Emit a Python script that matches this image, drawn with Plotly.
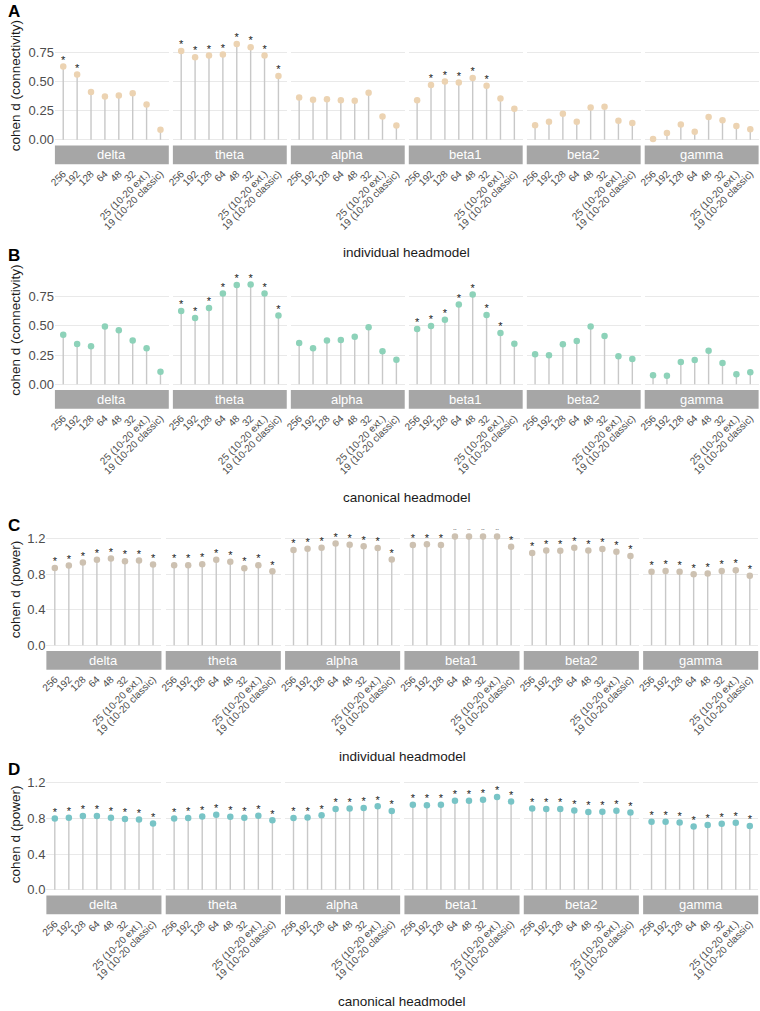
import plotly.graph_objects as go

# ---------------- data ----------------
categories = ["256", "192", "128", "64", "48", "32", "25 (10-20 ext.)", "19 (10-20 classic)"]
bands = ["delta", "theta", "alpha", "beta1", "beta2", "gamma"]

# A: connectivity, individual headmodel
conn_individual = [
    [0.627, 0.559, 0.410, 0.371, 0.379, 0.399, 0.302, 0.086],
    [0.761, 0.707, 0.721, 0.730, 0.821, 0.793, 0.721, 0.547],
    [0.362, 0.342, 0.348, 0.339, 0.334, 0.402, 0.200, 0.123],
    [0.339, 0.470, 0.499, 0.490, 0.530, 0.462, 0.354, 0.265],
    [0.125, 0.154, 0.222, 0.154, 0.277, 0.282, 0.163, 0.143],
    [0.006, 0.057, 0.131, 0.068, 0.194, 0.168, 0.117, 0.091],
]
conn_individual_sig = [
    [1, 1, 0, 0, 0, 0, 0, 0],
    [1, 1, 1, 1, 1, 1, 1, 1],
    [0, 0, 0, 0, 0, 0, 0, 0],
    [0, 1, 1, 1, 1, 1, 0, 0],
    [0, 0, 0, 0, 0, 0, 0, 0],
    [0, 0, 0, 0, 0, 0, 0, 0],
]

# B: connectivity, canonical headmodel
conn_canonical = [
    [0.425, 0.345, 0.325, 0.496, 0.462, 0.376, 0.308, 0.108],
    [0.627, 0.567, 0.653, 0.778, 0.850, 0.855, 0.778, 0.590],
    [0.354, 0.308, 0.376, 0.379, 0.408, 0.488, 0.282, 0.211],
    [0.473, 0.499, 0.553, 0.684, 0.770, 0.593, 0.439, 0.348],
    [0.257, 0.248, 0.342, 0.371, 0.496, 0.413, 0.240, 0.217],
    [0.077, 0.074, 0.191, 0.208, 0.288, 0.183, 0.086, 0.103],
]
conn_canonical_sig = [
    [0, 0, 0, 0, 0, 0, 0, 0],
    [1, 1, 1, 1, 1, 1, 1, 1],
    [0, 0, 0, 0, 0, 0, 0, 0],
    [1, 1, 1, 1, 1, 1, 1, 0],
    [0, 0, 0, 0, 0, 0, 0, 0],
    [0, 0, 0, 0, 0, 0, 0, 0],
]

# C: power, individual headmodel
power_individual = [
    [0.872, 0.899, 0.933, 0.964, 0.979, 0.949, 0.956, 0.910],
    [0.903, 0.903, 0.914, 0.964, 0.941, 0.869, 0.903, 0.834],
    [1.074, 1.090, 1.101, 1.147, 1.135, 1.116, 1.097, 0.968],
    [1.131, 1.139, 1.131, 1.227, 1.227, 1.227, 1.227, 1.112],
    [1.040, 1.070, 1.067, 1.101, 1.070, 1.086, 1.055, 1.006],
    [0.830, 0.838, 0.830, 0.800, 0.808, 0.838, 0.846, 0.785],
]
power_individual_sig = [[1] * 8 for _ in range(6)]

# D: power, canonical headmodel
power_canonical = [
    [0.800, 0.807, 0.826, 0.826, 0.807, 0.793, 0.789, 0.744],
    [0.800, 0.804, 0.822, 0.841, 0.819, 0.807, 0.830, 0.778],
    [0.804, 0.811, 0.834, 0.905, 0.912, 0.916, 0.935, 0.882],
    [0.953, 0.949, 0.953, 0.998, 0.998, 1.009, 1.039, 0.991],
    [0.912, 0.905, 0.905, 0.890, 0.871, 0.875, 0.886, 0.867],
    [0.763, 0.763, 0.755, 0.710, 0.725, 0.740, 0.751, 0.714],
]
power_canonical_sig = [[1] * 8 for _ in range(6)]

# ---------------- layout config ----------------
W, H = 760, 1011
FONT = "Liberation Sans, Arial, sans-serif"


def fx(px):
    return px / W


def fy(px):
    return 1 - px / H


panels = [
    dict(tag="A", vals=conn_individual, sig=conn_individual_sig, color="#ecd3b2",
         top=26.6, bot=145.3, rng=[-0.045, 0.97], strip=(145.7, 164.5),
         left=49.3, width=114.8, gap=4.1,
         tickvals=[0, 0.25, 0.5, 0.75], tickformat=".2f",
         ytitle="cohen d (connectivity)", xtitle="individual headmodel",
         xtitle_y=253, tag_y=0),
    dict(tag="B", vals=conn_canonical, sig=conn_canonical_sig, color="#8dd2b9",
         top=271.6, bot=390.3, rng=[-0.045, 0.97], strip=(390.7, 409.5),
         left=49.3, width=114.8, gap=4.1,
         tickvals=[0, 0.25, 0.5, 0.75], tickformat=".2f",
         ytitle="cohen d (connectivity)", xtitle="canonical headmodel",
         xtitle_y=498, tag_y=244),
    dict(tag="C", vals=power_individual, sig=power_individual_sig, color="#cdc1b1",
         top=530.2, bot=651.8, rng=[-0.06, 1.31], strip=(652.2, 671.0),
         left=40.7, width=116.0, gap=4.3,
         tickvals=[0, 0.4, 0.8, 1.2], tickformat=".1f",
         ytitle="cohen d (power)", xtitle="individual headmodel",
         xtitle_y=758, tag_y=515),
    dict(tag="D", vals=power_canonical, sig=power_canonical_sig, color="#78c4c6",
         top=775.4, bot=897.2, rng=[-0.065, 1.30], strip=(897.3, 916.0),
         left=40.7, width=116.0, gap=4.3,
         tickvals=[0, 0.4, 0.8, 1.2], tickformat=".1f",
         ytitle="cohen d (power)", xtitle="canonical headmodel",
         xtitle_y=1003, tag_y=760),
]

fig = go.Figure()
layout = {}
shapes = []
annotations = []

for p_i, p in enumerate(panels):
    for b_i, band in enumerate(bands):
        n = p_i * 6 + b_i + 1
        xa = "x" if n == 1 else f"x{n}"
        ya = "y" if n == 1 else f"y{n}"
        xkey = "xaxis" if n == 1 else f"xaxis{n}"
        ykey = "yaxis" if n == 1 else f"yaxis{n}"
        vals = p["vals"][b_i]
        sig = p["sig"][b_i]

        sx, sy = [], []
        for c, v in zip(categories, vals):
            sx += [c, c, None]
            sy += [0, v, None]
        fig.add_trace(go.Scatter(x=sx, y=sy, mode="lines",
                                 line=dict(color="#c8c8c8", width=1.4),
                                 xaxis=xa, yaxis=ya, hoverinfo="skip",
                                 showlegend=False, connectgaps=False))
        fig.add_trace(go.Scatter(x=categories, y=vals, mode="markers",
                                 marker=dict(color=p["color"], size=6.5),
                                 xaxis=xa, yaxis=ya, showlegend=False,
                                 cliponaxis=False))
        fig.add_trace(go.Scatter(x=categories, y=vals, mode="text",
                                 text=["*" if s else "" for s in sig],
                                 textposition="top center",
                                 textfont=dict(size=11, color="#1a1a1a", family=FONT),
                                 xaxis=xa, yaxis=ya, showlegend=False,
                                 hoverinfo="skip", cliponaxis=True))

        x0 = p["left"] + b_i * (p["width"] + p["gap"])
        x1 = x0 + p["width"]
        layout[xkey] = dict(
            domain=[fx(x0), fx(x1)], anchor="free", position=fy(p["strip"][1] + 1.0),
            type="category", categoryorder="array", categoryarray=categories,
            range=[-0.6, 7.6], tickmode="array", tickvals=categories, ticktext=categories,
            tickangle=-45, tickfont=dict(size=10, color="#4d4d4d", family=FONT),
            showgrid=False, zeroline=False, showline=False, ticks="",
        )
        layout[ykey] = dict(
            domain=[fy(p["bot"]), fy(p["top"])], anchor=xa, range=p["rng"],
            tickmode="array", tickvals=p["tickvals"], tickformat=p["tickformat"],
            showticklabels=(b_i == 0), gridcolor="#e9e9e9", gridwidth=1,
            zeroline=False, showline=False, ticks="",
            tickfont=dict(size=13, color="#4d4d4d", family=FONT),
        )

        # facet strip
        shapes.append(dict(type="rect", xref="paper", yref="paper",
                           x0=fx(x0), x1=fx(x1), y0=fy(p["strip"][1]), y1=fy(p["strip"][0]),
                           fillcolor="#a6a6a6", line=dict(width=0), layer="above"))
        annotations.append(dict(x=fx((x0 + x1) / 2), y=fy((p["strip"][0] + p["strip"][1]) / 2),
                                xref="paper", yref="paper", text=band, showarrow=False,
                                font=dict(size=13, color="white", family=FONT),
                                xanchor="center", yanchor="middle"))

    # y title
    annotations.append(dict(x=0, y=fy((p["top"] + p["bot"]) / 2), xref="paper", yref="paper",
                            text=p["ytitle"], textangle=-90, showarrow=False,
                            font=dict(size=13.5, color="#1a1a1a", family=FONT),
                            xanchor="left", yanchor="middle"))
    # x title
    xl = p["left"]
    xr = p["left"] + 6 * p["width"] + 5 * p["gap"]
    annotations.append(dict(x=fx((xl + xr) / 2), y=fy(p["xtitle_y"]), xref="paper", yref="paper",
                            text=p["xtitle"], showarrow=False,
                            font=dict(size=13.5, color="#1a1a1a", family=FONT),
                            xanchor="center", yanchor="middle"))
    # panel tag
    annotations.append(dict(x=0, y=fy(p["tag_y"]), xref="paper", yref="paper",
                            text="<b>" + p["tag"] + "</b>", showarrow=False,
                            font=dict(size=17, color="#000000", family=FONT),
                            xanchor="left", yanchor="top"))

fig.update_layout(
    width=W, height=H, margin=dict(l=0, r=0, t=0, b=0),
    paper_bgcolor="white", plot_bgcolor="white",
    shapes=shapes, annotations=annotations, hovermode=False,
    font=dict(family=FONT),
    **layout,
)

fig.write_html("out.html")
